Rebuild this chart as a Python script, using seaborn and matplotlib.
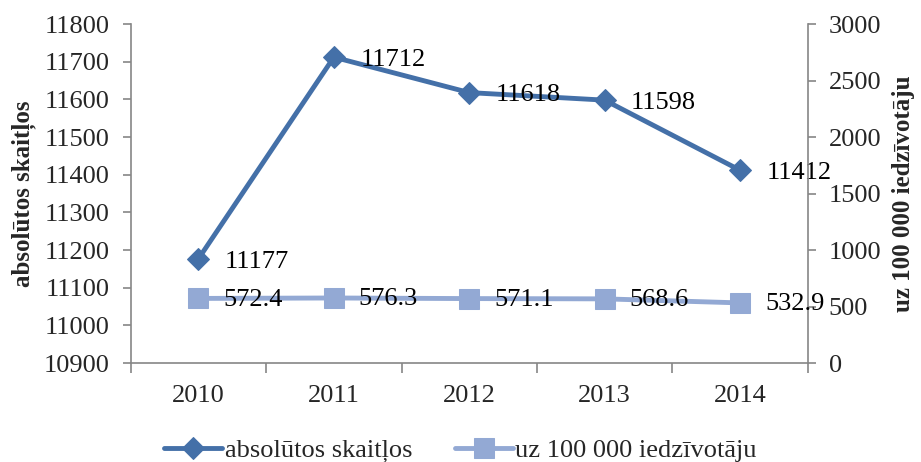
import matplotlib
matplotlib.use("Agg")
import matplotlib.pyplot as plt
import numpy as np
import pandas as pd
import seaborn as sns

years = ["2010", "2011", "2012", "2013", "2014"]
absolute = [11177, 11712, 11618, 11598, 11412]
per_100k = [572.4, 576.3, 571.1, 568.6, 532.9]
abs_labels = ["11177", "11712", "11618", "11598", "11412"]
rate_labels = ["572.4", "576.3", "571.1", "568.6", "532.9"]

sns.set_theme(style="white")
plt.rcParams["font.family"] = ["Liberation Serif", "DejaVu Serif"]

DARK = "#4470a8"
LIGHT = "#93a9d4"
SPINE = "#868686"
FS = 19

df = pd.DataFrame({"pos": np.arange(len(years)), "year": years,
                   "absolute": absolute, "per_100k": per_100k})

fig, ax = plt.subplots(figsize=(9.21, 4.62), dpi=100)
fig.subplots_adjust(left=0.142, right=0.877, top=0.948, bottom=0.214)
ax2 = ax.twinx()

sns.lineplot(data=df, x="pos", y="absolute", ax=ax, color=DARK, lw=3.5,
             marker="D", markersize=11, markeredgecolor=DARK,
             label="absolūtos skaitļos", legend=False)
sns.lineplot(data=df, x="pos", y="per_100k", ax=ax2, color=LIGHT, lw=3.5,
             marker="s", markersize=14, markeredgecolor=LIGHT,
             label="uz 100 000 iedzīvotāju", legend=False)

for x, y, t in zip(df["pos"], absolute, abs_labels):
    ax.annotate(t, (x, y), xytext=(19, -2), textcoords="offset points",
                ha="left", va="center", fontsize=FS, color="black")
for x, y, t in zip(df["pos"], per_100k, rate_labels):
    ax2.annotate(t, (x, y), xytext=(18, -1), textcoords="offset points",
                 ha="left", va="center", fontsize=FS, color="black")

ax.set_xlim(-0.5, len(years) - 0.5)
ax.set_ylim(10900, 11800)
ax.set_yticks(np.arange(10900, 11801, 100))
ax2.set_ylim(0, 3000)
ax2.set_yticks(np.arange(0, 3001, 500))

ax.set_xticks(df["pos"])
ax.set_xticklabels(years)
ax.set_xticks(np.arange(-0.5, len(years)), minor=True)
ax.tick_params(axis="x", which="major", length=0, pad=16, labelsize=FS)
ax.tick_params(axis="x", which="minor", length=7, width=1.2, color=SPINE,
               direction="out", bottom=True)
ax.tick_params(axis="y", length=6, width=1.2, color=SPINE, direction="out",
               left=True, labelsize=FS, pad=9)
ax2.tick_params(axis="y", length=6, width=1.2, color=SPINE, direction="out",
                right=True, labelsize=FS, pad=9)

ax.set_xlabel("")
ax.set_ylabel("absolūtos skaitļos", fontsize=18, fontweight="bold", labelpad=6)
ax2.set_ylabel("uz 100 000 iedzīvotāju", fontsize=18, fontweight="bold",
               labelpad=8)

for a in (ax, ax2):
    a.spines["top"].set_visible(False)
    for s in ("left", "right", "bottom"):
        a.spines[s].set_color(SPINE)
        a.spines[s].set_linewidth(1.2)
ax.spines["right"].set_visible(False)
ax2.spines["left"].set_visible(False)
ax2.spines["bottom"].set_visible(False)
ax.grid(False)
ax2.grid(False)

h1, l1 = ax.get_legend_handles_labels()
h2, l2 = ax2.get_legend_handles_labels()
fig.legend(h1 + h2, l1 + l2, loc="center", bbox_to_anchor=(0.5, 0.025),
           ncol=2, frameon=False, fontsize=FS, handlelength=2.2,
           handletextpad=0.1, columnspacing=1.6)

fig.savefig("out.png", dpi=100)
